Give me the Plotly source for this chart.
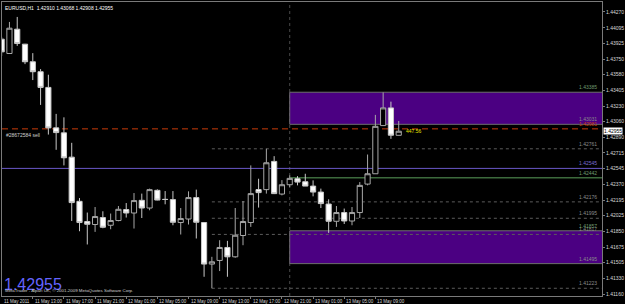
import plotly.graph_objects as go

# ---------------- data ----------------
times = [
    "11 May 09:00", "11 May 10:00", "11 May 11:00", "11 May 12:00", "11 May 13:00",
    "11 May 14:00", "11 May 15:00", "11 May 16:00", "11 May 17:00", "11 May 18:00",
    "11 May 19:00", "11 May 20:00", "11 May 21:00", "11 May 22:00", "11 May 23:00",
    "12 May 00:00", "12 May 01:00", "12 May 02:00", "12 May 03:00", "12 May 04:00",
    "12 May 05:00", "12 May 06:00", "12 May 07:00", "12 May 08:00", "12 May 09:00",
    "12 May 10:00", "12 May 11:00", "12 May 12:00", "12 May 13:00", "12 May 14:00",
    "12 May 15:00", "12 May 16:00", "12 May 17:00", "12 May 18:00", "12 May 19:00",
    "12 May 20:00", "12 May 21:00", "12 May 22:00", "12 May 23:00", "13 May 00:00",
    "13 May 01:00", "13 May 02:00", "13 May 03:00", "13 May 04:00", "13 May 05:00",
    "13 May 06:00", "13 May 07:00", "13 May 08:00", "13 May 09:00", "13 May 10:00",
    "13 May 11:00", "13 May 12:00",
]
opens = [1.43970, 1.43812, 1.44080, 1.43915, 1.43721, 1.43611, 1.43438, 1.42992, 1.42937, 1.42669,
         1.42182, 1.41959, 1.41926, 1.42003, 1.41918, 1.41970, 1.42091, 1.42053, 1.42193, 1.42108,
         1.42303, 1.42204, 1.42201, 1.41948, 1.41987, 1.42223, 1.41948, 1.41490, 1.41530, 1.41673,
         1.41570, 1.41805, 1.41948, 1.42311, 1.42311, 1.42622, 1.42262, 1.42365, 1.42431, 1.42398,
         1.42350, 1.42284, 1.42152, 1.41962, 1.42058, 1.41965, 1.42058, 1.42372, 1.42486, 1.43017,
         1.43212, 1.42910]
highs = [1.43995, 1.44160, 1.44215, 1.43918, 1.43816, 1.43640, 1.43578, 1.43146, 1.43108, 1.42827,
         1.42218, 1.42058, 1.42119, 1.42072, 1.42047, 1.42130, 1.42163, 1.42273, 1.42267, 1.42322,
         1.42314, 1.42295, 1.42295, 1.42108, 1.42292, 1.42311, 1.41951, 1.41570, 1.41753, 1.41746,
         1.42108, 1.42185, 1.42578, 1.42431, 1.42761, 1.42680, 1.42416, 1.42468, 1.42460, 1.42486,
         1.42413, 1.42322, 1.42204, 1.42130, 1.42102, 1.42119, 1.42394, 1.42698, 1.43135, 1.43383,
         1.43281, 1.43068]
lows = [1.43786, 1.43808, 1.43896, 1.43695, 1.43519, 1.43245, 1.42918, 1.42750, 1.42578, 1.41965,
        1.41852, 1.41706, 1.41845, 1.41885, 1.41874, 1.41962, 1.42003, 1.41882, 1.41998, 1.42083,
        1.42193, 1.42149, 1.41918, 1.41816, 1.41926, 1.41772, 1.41350, 1.41223, 1.41413, 1.41350,
        1.41560, 1.41698, 1.41900, 1.42113, 1.42267, 1.42262, 1.42248, 1.42339, 1.42358, 1.42350,
        1.42237, 1.42108, 1.41834, 1.41900, 1.41932, 1.41918, 1.41998, 1.42358, 1.42486, 1.43017,
        1.42871, 1.42908]
closes = [1.43830, 1.44091, 1.43922, 1.43721, 1.43611, 1.43438, 1.42992, 1.42940, 1.42662, 1.42168,
          1.41948, 1.41929, 1.42014, 1.41896, 1.41970, 1.42094, 1.42053, 1.42190, 1.42108, 1.42311,
          1.42196, 1.42202, 1.41951, 1.41992, 1.42223, 1.41951, 1.41490, 1.41515, 1.41673, 1.41570,
          1.41808, 1.41959, 1.42267, 1.42278, 1.42607, 1.42267, 1.42365, 1.42435, 1.42394, 1.42350,
          1.42284, 1.42157, 1.41962, 1.42058, 1.41965, 1.42058, 1.42358, 1.42486, 1.43009, 1.43212,
          1.42911, 1.42955]

price_ticks = [1.44270, 1.44095, 1.43925, 1.43750, 1.43580, 1.43405, 1.43230, 1.43060, 1.42890,
               1.42715, 1.42545, 1.42370, 1.42195, 1.42025, 1.41850, 1.41675, 1.41505, 1.41330, 1.41160]
time_label_bars = ["11 May 09:00", "11 May 13:00", "11 May 17:00", "11 May 21:00", "12 May 01:00",
                   "12 May 05:00", "12 May 09:00", "12 May 13:00", "12 May 17:00", "12 May 21:00",
                   "13 May 01:00", "13 May 05:00", "13 May 09:00"]
time_label_text = ["11 May 2011", "11 May 13:00", "11 May 17:00", "11 May 21:00", "12 May 01:00",
                   "12 May 05:00", "12 May 09:00", "12 May 13:00", "12 May 17:00", "12 May 21:00",
                   "13 May 01:00", "13 May 05:00", "13 May 09:00"]

symbol_title = "EURUSD,H1  1.42910 1.43068 1.42908 1.42955"
current_price = 1.42955
order_price = 1.42981
order_label = "#28672584 sell"
profit_label = "447.56"
purple_line_price = 1.42545
green_line_price = 1.42442
box_start_bar = "12 May 22:00"
upper_box = (1.43031, 1.43385)
lower_box = (1.41495, 1.41857)
fib_start_bar = "12 May 12:00"
fib_levels = [1.42761, 1.42176, 1.41995, 1.41817, 1.41223]
copyright_text = "MetaTrader - Alpari UK, \u00a9 2001-2009 MetaQuotes Software Corp."

# ---------------- figure ----------------
xs = list(range(len(times)))
x_min, x_max = 0.045, 77.11
y_min, y_max = 1.411379, 1.443799

FONT = "Liberation Sans"

fig = go.Figure()

fig.add_trace(go.Candlestick(
    x=xs, open=opens, high=highs, low=lows, close=closes,
    increasing=dict(line=dict(color="#a8a8a8", width=1), fillcolor="#000000"),
    decreasing=dict(line=dict(color="#c8c8c8", width=1), fillcolor="#ffffff"),
    whiskerwidth=0, hoverinfo="skip", showlegend=False,
))

box_x = times.index(box_start_bar)
fib_x = times.index(fib_start_bar)

shapes = []
for lo, hi in (upper_box, lower_box):
    shapes.append(dict(type="rect", xref="x", yref="y", x0=box_x, x1=x_max + 5, y0=lo, y1=hi,
                       fillcolor="#4b0082", line=dict(color="#6e6e6e", width=1), layer="below"))
shapes.append(dict(type="line", xref="x", yref="paper", x0=box_x, x1=box_x, y0=0, y1=1,
                   line=dict(color="#4a4a4a", width=1, dash="dot"), layer="below"))
for lv in fib_levels:
    shapes.append(dict(type="line", xref="x", yref="y", x0=fib_x, x1=x_max, y0=lv, y1=lv,
                       line=dict(color="#5c5c5c", width=1, dash="dot"), layer="below"))
shapes.append(dict(type="line", xref="paper", yref="y", x0=0, x1=1, y0=order_price, y1=order_price,
                   line=dict(color="#c83c0a", width=1, dash="6px,4px"), layer="below"))
shapes.append(dict(type="line", xref="paper", yref="y", x0=0, x1=1, y0=purple_line_price,
                   y1=purple_line_price, line=dict(color="#6a58c8", width=1), layer="below"))
shapes.append(dict(type="line", xref="x", yref="y", x0=box_x, x1=x_max, y0=green_line_price,
                   y1=green_line_price, line=dict(color="#3c6a3c", width=1.5), layer="below"))

annotations = []
for b, t in zip(time_label_bars, time_label_text):
    xv = max(times.index(b), x_min + 0.02)
    annotations.append(dict(x=xv, xref="x", y=0, yref="paper", yanchor="top", xanchor="left",
                            yshift=-1, xshift=0, text=t, showarrow=False,
                            font=dict(family=FONT, size=4.5, color="#d8d8d8")))

obj_labels = [
    (upper_box[1], "#6e9a6e"), (upper_box[0], "#8a8a8a"), (order_price, "#c83c0a"),
    (fib_levels[0], "#8a8a8a"), (purple_line_price, "#7a6ad0"), (green_line_price, "#6e9a6e"),
    (fib_levels[1], "#8a8a8a"), (fib_levels[2], "#8a8a8a"), (fib_levels[3], "#8a8a8a"),
    (lower_box[1], "#6e9a6e"), (lower_box[0], "#8a8a8a"), (fib_levels[4], "#8a8a8a"),
]
for p, c in obj_labels:
    annotations.append(dict(x=0.995, xref="paper", y=p, yref="y", xanchor="right", yanchor="bottom",
                            text=f"{p:.5f}", showarrow=False, font=dict(family=FONT, size=5, color=c)))

annotations.append(dict(x=1.0, xref="paper", y=current_price, yref="y", xanchor="left",
                        yanchor="middle", xshift=1, text=f"{current_price:.5f}", showarrow=False,
                        bgcolor="#ffffff", borderpad=0,
                        font=dict(family=FONT, size=5, color="#000000")))

annotations.append(dict(x=0, xref="paper", y=1, yref="paper", xanchor="left", yanchor="top",
                        xshift=1, yshift=-1, text=symbol_title, showarrow=False,
                        font=dict(family=FONT, size=5, color="#ffffff")))
annotations.append(dict(x=0, xref="paper", y=order_price, yref="y", xanchor="left", yanchor="top",
                        xshift=2, yshift=-1, text=order_label, showarrow=False,
                        font=dict(family=FONT, size=5, color="#d0d0d0")))
annotations.append(dict(x=51.64, xref="x", y=order_price, yref="y", xanchor="left", yanchor="middle",
                        yshift=-2, text=profit_label, showarrow=False,
                        font=dict(family=FONT, size=5, color="#e8e800")))
annotations.append(dict(x=0, xref="paper", y=0, yref="paper", xanchor="left", yanchor="bottom",
                        xshift=0, yshift=1, text=f"{current_price:.5f}", showarrow=False,
                        font=dict(family=FONT, size=16, color="#6464ff")))
annotations.append(dict(x=0, xref="paper", y=0, yref="paper", xanchor="left", yanchor="bottom",
                        xshift=1, yshift=1, text=copyright_text, showarrow=False,
                        font=dict(family=FONT, size=4.4, color="#d0d0d0")))

fig.update_layout(
    width=625, height=304, autosize=False,
    margin=dict(l=2, r=18, t=1, b=8, pad=0),
    paper_bgcolor="#000000", plot_bgcolor="#000000",
    showlegend=False,
    boxgap=0.05, boxgroupgap=0.3,
    shapes=shapes, annotations=annotations,
    xaxis=dict(range=[x_min, x_max], rangeslider=dict(visible=False), showgrid=False,
               zeroline=False, showline=True, mirror=True, linecolor="#7a7a7a", linewidth=1,
               tickmode="array", tickvals=[times.index(b) for b in time_label_bars],
               ticks="outside", ticklen=2, tickcolor="#7a7a7a", showticklabels=False),
    yaxis=dict(range=[y_min, y_max], side="right", showgrid=False, zeroline=False,
               showline=True, mirror=True, linecolor="#7a7a7a", linewidth=1,
               tickmode="array", tickvals=price_ticks, ticktext=[f"{v:.5f}" for v in price_ticks],
               ticks="outside", ticklen=2, tickcolor="#7a7a7a",
               tickfont=dict(family=FONT, size=5, color="#d8d8d8")),
)

fig.write_html("out.html")
